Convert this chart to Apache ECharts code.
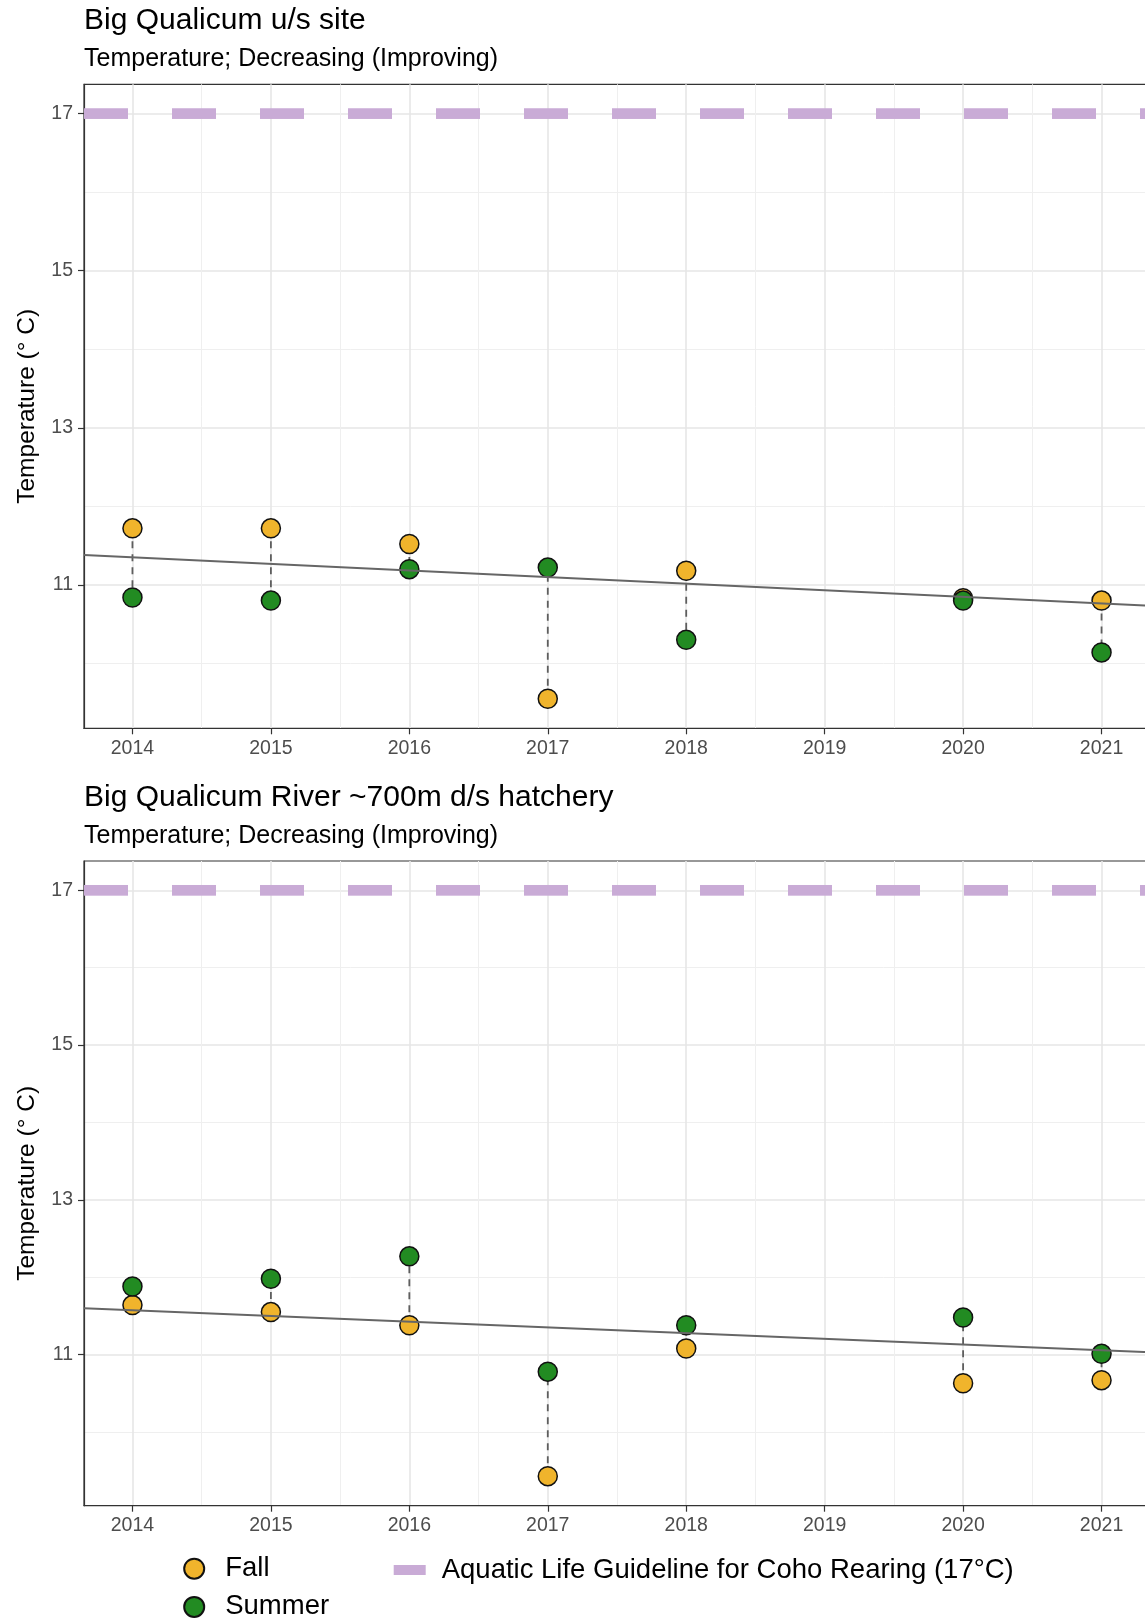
<!DOCTYPE html>
<html>
<head>
<meta charset="utf-8">
<title>Big Qualicum temperature</title>
<script src="https://cdn.jsdelivr.net/npm/echarts@6/dist/echarts.min.js"></script>
<style>
  html, body { margin: 0; padding: 0; background: #ffffff; overflow: hidden; }
  /* the panels run a few pixels past the right edge of the page */
  #chart { width: 1150px; height: 1621px; }
</style>
</head>
<body>
<div id="chart"></div>
<script>
// Sampling years (no 2019 sample)
const years = [2014, 2015, 2016, 2017, 2018, 2020, 2021];

// Big Qualicum u/s site (°C)
const upFall   = [11.72, 11.72, 11.52, 9.55, 11.18, 10.83, 10.80];
const upSummer = [10.84, 10.80, 11.20, 11.22, 10.30, 10.80, 10.14];
const upTrend  = [11.38, 10.735];

// Big Qualicum River ~700m d/s hatchery (°C)
const dsFall   = [11.64, 11.55, 11.38, 9.43, 11.08, 10.63, 10.67];
const dsSummer = [11.88, 11.98, 12.27, 10.78, 11.38, 11.48, 11.01];
const dsTrend  = [11.60, 11.03];

// Aquatic life guideline for coho rearing
const guideline = 17;

// Axis ranges and breaks
const xRange = [2013.65, 2021.35];
const upYRange = [9.174, 17.373];
const dsYRange = [9.048, 17.379];
const xTicks = [2014, 2015, 2016, 2017, 2018, 2019, 2020, 2021];
const xMinor = [2014.5, 2015.5, 2016.5, 2017.5, 2018.5, 2019.5, 2020.5];
const yTicks = [11, 13, 15, 17];
const yMinor = [10, 12, 14, 16];

const panelTitles = ['Big Qualicum u/s site', 'Big Qualicum River ~700m d/s hatchery'];
const panelSubtitle = 'Temperature; Decreasing (Improving)';
const yName = 'Temperature (° C)';
const guideName = 'Aquatic Life Guideline for Coho Rearing (17°C)';

const FONT = '"Liberation Sans", Arial, Helvetica, sans-serif';
const FALL_COLOR = '#F0B42C';
const SUMMER_COLOR = '#228B22';
const GUIDE_COLOR = '#C9ABD6';

const panels = [
  { fall: upFall, summer: upSummer, trend: upTrend, yRange: upYRange, top: 84.3, height: 644 },
  { fall: dsFall, summer: dsSummer, trend: dsTrend, yRange: dsYRange, top: 861, height: 644.7 }
];

const grids = [], xAxes = [], yAxes = [], series = [];

panels.forEach((p, i) => {
  grids.push({
    left: 84, right: 0, top: p.top, height: p.height,
    show: true, borderColor: '#333333', borderWidth: 1.2, backgroundColor: '#ffffff'
  });

  // main x axis: year breaks, ticks and labels
  xAxes.push({
    type: 'value', gridIndex: i, min: xRange[0], max: xRange[1],
    axisLine: { show: true, lineStyle: { color: '#333333', width: 1.2 } },
    axisTick: { show: true, length: 6, customValues: xTicks, lineStyle: { color: '#333333', width: 1.2 } },
    axisLabel: {
      customValues: xTicks, color: '#4d4d4d', fontSize: 19.5, fontFamily: FONT, margin: 10,
      formatter: v => String(v)
    },
    splitLine: { show: true, lineStyle: { color: '#e6e6e6', width: 1.6 } }
  });
  // minor x grid lines at half years
  xAxes.push({
    type: 'value', gridIndex: i, min: xRange[0], max: xRange[1], position: 'bottom',
    axisLine: { show: false }, axisLabel: { show: false },
    axisTick: { show: false, customValues: xMinor },
    splitLine: { show: true, lineStyle: { color: '#efefef', width: 1 } }
  });

  yAxes.push({
    type: 'value', gridIndex: i, min: p.yRange[0], max: p.yRange[1],
    name: yName, nameLocation: 'middle', nameRotate: 90, nameGap: 44,
    nameTextStyle: { fontSize: 24.5, color: '#000000', fontFamily: FONT },
    axisLine: { show: true, lineStyle: { color: '#333333', width: 1.2 } },
    axisTick: { show: true, length: 6, customValues: yTicks, lineStyle: { color: '#333333', width: 1.2 } },
    axisLabel: {
      customValues: yTicks, color: '#4d4d4d', fontSize: 19.5, fontFamily: FONT, margin: 11,
      formatter: v => String(v)
    },
    splitLine: { show: true, lineStyle: { color: '#e6e6e6', width: 1.6 } }
  });
  // minor y grid lines
  yAxes.push({
    type: 'value', gridIndex: i, min: p.yRange[0], max: p.yRange[1], position: 'left',
    axisLine: { show: false }, axisLabel: { show: false },
    axisTick: { show: false, customValues: yMinor },
    splitLine: { show: true, lineStyle: { color: '#efefef', width: 1 } }
  });

  const xi = i * 2, yi = i * 2;

  // 17 °C guideline
  series.push({
    name: guideName, type: 'line', xAxisIndex: xi, yAxisIndex: yi, z: 2,
    data: xRange.map(x => [x, guideline]),
    symbol: 'none', silent: true,
    itemStyle: { color: GUIDE_COLOR },
    lineStyle: { color: GUIDE_COLOR, width: 10.7, type: [44, 44], cap: 'butt' }
  });

  // dashed segment linking fall and summer for each year
  series.push({
    type: 'custom', xAxisIndex: xi, yAxisIndex: yi, z: 3, silent: true,
    data: years.map((y, k) => [y, p.fall[k], p.summer[k]]),
    encode: { x: 0, y: [1, 2] },
    renderItem: (params, api) => {
      const a = api.coord([api.value(0), api.value(1)]);
      const b = api.coord([api.value(0), api.value(2)]);
      return {
        type: 'line',
        shape: { x1: a[0], y1: a[1], x2: b[0], y2: b[1] },
        style: { stroke: '#5e5e5e', lineWidth: 1.8, lineDash: [7, 6] }
      };
    }
  });

  series.push({
    name: 'Fall', type: 'scatter', xAxisIndex: xi, yAxisIndex: yi, z: 4,
    data: years.map((y, k) => [y, p.fall[k]]),
    symbol: 'circle', symbolSize: 19,
    itemStyle: { color: FALL_COLOR, borderColor: '#111111', borderWidth: 1.5, opacity: 1 }
  });
  series.push({
    name: 'Summer', type: 'scatter', xAxisIndex: xi, yAxisIndex: yi, z: 4,
    data: years.map((y, k) => [y, p.summer[k]]),
    symbol: 'circle', symbolSize: 19,
    itemStyle: { color: SUMMER_COLOR, borderColor: '#111111', borderWidth: 1.5, opacity: 1 }
  });

  // linear trend
  series.push({
    type: 'line', xAxisIndex: xi, yAxisIndex: yi, z: 5, silent: true,
    data: xRange.map((x, k) => [x, p.trend[k]]),
    symbol: 'none',
    lineStyle: { color: '#666666', width: 2 }
  });
});

const titleStyle = (size) => ({ fontSize: size, lineHeight: size, fontWeight: 'normal', color: '#000', fontFamily: FONT });
const titles = [
  { text: panelTitles[0], left: 84, top: 6, textStyle: titleStyle(30) },
  { text: panelSubtitle, left: 84, top: 47, textStyle: titleStyle(25) },
  { text: panelTitles[1], left: 84, top: 782.5, textStyle: titleStyle(30) },
  { text: panelSubtitle, left: 84, top: 824, textStyle: titleStyle(25) }
];
titles.forEach(t => { t.padding = 0; });

const legendText = { fontSize: 27.5, lineHeight: 28, color: '#000', fontFamily: FONT };
const pointLegend = (name, top) => ({
  orient: 'vertical', left: 183.2, top: top, padding: 0,
  itemWidth: 40, itemHeight: 20, icon: 'circle',
  data: [name],
  textStyle: Object.assign({ padding: [0, 0, 0, 6] }, legendText),
  selectedMode: false
});

const chart = echarts.init(document.getElementById('chart'), null, { renderer: 'canvas' });
chart.setOption({
  animation: false,
  backgroundColor: '#ffffff',
  title: titles,
  grid: grids,
  xAxis: xAxes,
  yAxis: yAxes,
  legend: [
    pointLegend('Fall', 1554.7),
    pointLegend('Summer', 1592.9),
    {
      orient: 'horizontal', left: 393.7, top: 1556, padding: 0,
      itemWidth: 32, itemHeight: 10,
      data: [{ name: guideName, icon: 'rect', itemStyle: { color: GUIDE_COLOR, borderWidth: 0 } }],
      textStyle: Object.assign({ padding: [0, 0, 0, 11] }, legendText),
      selectedMode: false
    }
  ],
  series: series
});
</script>
</body>
</html>
